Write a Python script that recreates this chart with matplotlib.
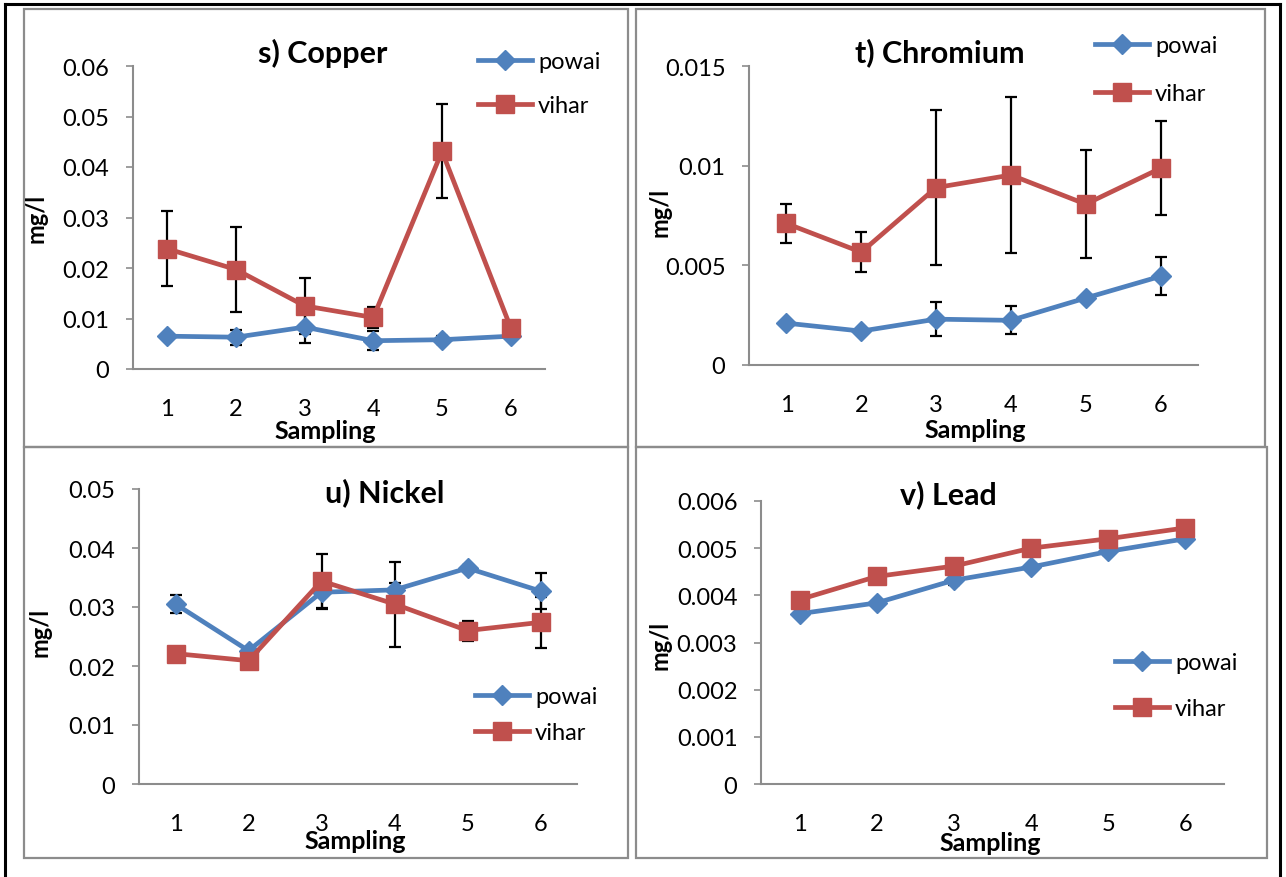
import matplotlib
matplotlib.use("Agg")
import matplotlib.pyplot as plt
from matplotlib.lines import Line2D
from matplotlib.patches import Rectangle

plt.rcParams['font.family'] = ['Lato', 'DejaVu Sans']

W, H = 1286, 878

sampling = [1, 2, 3, 4, 5, 6]

# copper (mg/l)
cu_powai = [0.0065, 0.0063, 0.0083, 0.0056, 0.0058, 0.0065]
cu_powai_err = [0.0003, 0.0015, 0.0031, 0.0019, 0.0008, 0.0004]
cu_vihar = [0.0238, 0.0197, 0.0125, 0.0102, 0.0431, 0.0082]
cu_vihar_err = [0.0074, 0.0084, 0.0055, 0.0020, 0.0093, 0.0004]

# chromium (mg/l)
cr_powai = [0.0021, 0.0017, 0.0023, 0.00224, 0.00336, 0.00445]
cr_powai_err = [0.0001, 0.00005, 0.00087, 0.0007, 0.0001, 0.00095]
cr_vihar = [0.0071, 0.00566, 0.0089, 0.00953, 0.00807, 0.00987]
cr_vihar_err = [0.001, 0.001, 0.0039, 0.0039, 0.0027, 0.00235]

# nickel (mg/l)
ni_powai = [0.0305, 0.0226, 0.0325, 0.0329, 0.0366, 0.0327]
ni_powai_err = [0.0015, 0.0002, 0.0028, 0.0012, 0.0005, 0.0030]
ni_vihar = [0.0221, 0.0209, 0.0344, 0.0305, 0.0260, 0.0274]
ni_vihar_err = [0.0006, 0.0005, 0.0045, 0.0072, 0.0017, 0.0043]

# lead (mg/l)
pb_powai = [0.00361, 0.00384, 0.00432, 0.0046, 0.00493, 0.0052]
pb_powai_err = [0.00003, 0.00003, 0.0001, 0.00003, 0.00008, 0.00003]
pb_vihar = [0.00391, 0.0044, 0.00462, 0.005, 0.0052, 0.00543]
pb_vihar_err = [0.00003, 0.00003, 0.00003, 0.00003, 0.00003, 0.00003]

BLUE = '#4f81bd'
RED = '#c0504d'
GRAY = '#8c8c8c'

fig = plt.figure(figsize=(W / 100, H / 100), dpi=100)


def fx(px):
    return px / W


def fy(py):
    return 1 - py / H


def box(l, t, r, b):
    return [fx(l), fy(b), fx(r) - fx(l), fy(t) - fy(b)]


# outer frame and the four panel frames
fig.add_artist(Line2D([fx(5), fx(5)], [0, fy(5)], color='black', lw=2.2))
fig.add_artist(Line2D([fx(5), fx(1280)], [fy(5), fy(5)], color='black', lw=2.2))
fig.add_artist(Line2D([fx(1280), fx(1280)], [0, fy(5)], color='black', lw=2.2))
for l, t, r, b in [(24, 10, 628, 448), (636, 10, 1265, 448),
                   (24, 448, 628, 859), (636, 448, 1267, 859)]:
    fig.add_artist(Rectangle((fx(l), fy(b)), fx(r) - fx(l), fy(t) - fy(b),
                             fill=False, edgecolor=GRAY, lw=1.6))


def panel(rect, powai, powai_err, vihar, vihar_err, top, step, fmt,
          title, title_xy, ylab_xy, xlab_xy, leg_xy, leg_gap):
    ax = fig.add_axes(box(*rect))
    ax.errorbar(sampling, powai, yerr=powai_err, fmt='none', ecolor='black',
                elinewidth=1.6, capsize=4.5, capthick=1.6, zorder=2)
    ax.errorbar(sampling, vihar, yerr=vihar_err, fmt='none', ecolor='black',
                elinewidth=1.6, capsize=4.5, capthick=1.6, zorder=2)
    ax.plot(sampling, powai, color=BLUE, lw=3.4, marker='D', ms=10.5,
            label='powai', zorder=3)
    ax.plot(sampling, vihar, color=RED, lw=3.4, marker='s', ms=12.5,
            label='vihar', zorder=4)
    ax.set_xlim(0.5, 6.5)
    ax.set_ylim(0, top)
    ticks = [i * step for i in range(int(round(top / step)) + 1)]
    ax.set_yticks(ticks)
    ax.set_yticklabels(['0'] + [fmt.format(t) for t in ticks[1:]])
    ax.set_xticks(sampling)
    ax.spines['top'].set_visible(False)
    ax.spines['right'].set_visible(False)
    for s in ('left', 'bottom'):
        ax.spines[s].set_color(GRAY)
        ax.spines[s].set_linewidth(1.5)
    ax.tick_params(axis='y', length=5, width=1.2, color=GRAY, pad=12,
                   labelsize=17)
    ax.tick_params(axis='x', length=0, pad=21, labelsize=17)
    fig.text(fx(title_xy[0]), fy(title_xy[1]), title, ha='center',
             va='center', fontsize=22, fontweight='bold')
    fig.text(fx(ylab_xy[0]), fy(ylab_xy[1]), 'mg/l', ha='center',
             va='center', rotation=90, fontsize=17, fontweight='bold')
    fig.text(fx(xlab_xy[0]), fy(xlab_xy[1] + 2), 'Sampling', ha='center',
             va='center', fontsize=18, fontweight='bold')
    ax.legend(loc='upper left',
              bbox_to_anchor=(fx(leg_xy[0]), fy(leg_xy[1] - 11)),
              bbox_transform=fig.transFigure, frameon=False, fontsize=17,
              handlelength=2.3, labelspacing=leg_gap, borderpad=0,
              borderaxespad=0, handletextpad=0.25)
    return ax


panel((133, 67, 545, 370), cu_powai, cu_powai_err, cu_vihar, cu_vihar_err,
      0.06, 0.01, '{:.2f}', 's) Copper', (323, 53), (36, 218), (325, 430),
      (478, 63), 0.98)
panel((749, 67, 1198, 366), cr_powai, cr_powai_err, cr_vihar, cr_vihar_err,
      0.015, 0.005, '{:g}', 't) Chromium', (940, 53), (660, 212), (975, 428),
      (1095, 47), 1.15)
panel((139, 490, 577, 785), ni_powai, ni_powai_err, ni_vihar, ni_vihar_err,
      0.05, 0.01, '{:.2f}', 'u) Nickel', (385, 493), (40, 632), (355, 840),
      (475, 698), 0.64)
panel((761, 502, 1224, 785), pb_powai, pb_powai_err, pb_vihar, pb_vihar_err,
      0.006, 0.001, '{:.3f}', 'v) Lead', (948, 495), (660, 645), (990, 842),
      (1115, 664), 1.07)

fig.savefig('out.png', dpi=100)
